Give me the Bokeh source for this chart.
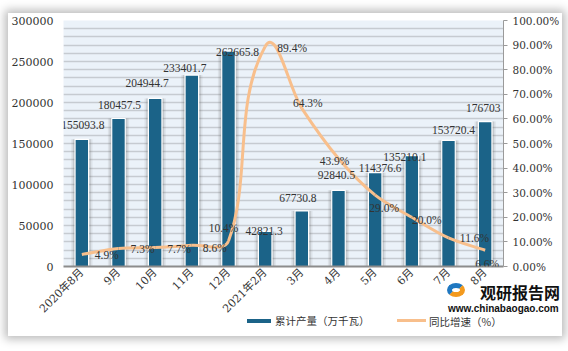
import math
from bokeh.plotting import figure
from bokeh.layouts import column
from bokeh.models import (Range1d, LinearAxis, SingleIntervalTicker, FixedTicker, PrintfTickFormatter,
                          NumeralTickFormatter, ColumnDataSource, LabelSet, Div)
from bokeh.embed import file_html
from bokeh.resources import INLINE

# ---------------- data ----------------
categories = ["2020年8月", "9月", "10月", "11月", "12月", "2021年2月",
              "3月", "4月", "5月", "6月", "7月", "8月"]
output = [155093.8, 180457.5, 204944.7, 233401.7, 262665.8, 42821.3,
          67730.8, 92840.5, 114376.6, 135210.1, 153720.4, 176703]
growth = [4.9, 7.3, 7.7, 8.6, 10.4, 89.4, 64.3, 43.9, 29.0, 20.0, 11.6, 6.6]
series_names = ["累计产量（万千瓦）", "同比增速（%）"]

# ---------------- label placement (style, px) ----------------
bar_lbl_dx = [1, 1, -8, -7, 9, -1, -4, -2, 5, -7, 5, -2]
bar_lbl_dy = [14, 14, 15, 7, -1, 0, 13, 15, 5, -1, 10, 14]
line_lbl_dx = [25, 24, 24, 23, -5, 27, 6, -4, 9, 15, 26, 2]
line_lbl_dy = [-1, 0, -1, -3, 13, -1, 5, -2, -13, -3, 0, -14]

BLUE = "#1b6388"
ORANGE = "#f8bf8c"
SERIF = "DejaVu Serif, Noto Sans CJK SC"

FW, FH = 442, 246   # frame size in px
n = len(categories)
xs = [i + 0.5 for i in range(n)]

p = figure(width=554, height=323, output_backend="svg", toolbar_location=None,
           x_range=Range1d(0, n), y_range=Range1d(0, 300000),
           min_border_left=55, min_border_right=57, min_border_top=7, min_border_bottom=70,
           background_fill_color="#ebf2f9", border_fill_color="white", outline_line_color=None)
p.margin = (13, 6, 0, 8)
p.styles = {"box-shadow": "0 0 9px 3px rgba(0,0,0,0.28)"}
p.extra_y_ranges = {"pct": Range1d(0, 100)}

# grid
p.xgrid.grid_line_color = None
p.ygrid.ticker = SingleIntervalTicker(interval=10000, num_minor_ticks=0)
p.ygrid.grid_line_color = "#c6cbd1"
p.ygrid.grid_line_width = 1.5

# left axis
ya = p.yaxis[0]
ya.ticker = SingleIntervalTicker(interval=50000, num_minor_ticks=0)
ya.formatter = NumeralTickFormatter(format="0")
ya.axis_line_color = None
ya.major_tick_line_color = None
ya.minor_tick_line_color = None
ya.major_tick_out = 0
ya.major_label_text_font = SERIF
ya.major_label_text_font_size = "11px"
ya.major_label_text_color = "#333333"
ya.major_label_standoff = 10

# bottom axis
xa = p.xaxis[0]
xa.ticker = FixedTicker(ticks=xs)
xa.major_label_overrides = {x: c for x, c in zip(xs, categories)}
xa.major_label_orientation = math.pi / 4
xa.axis_line_color = "#8c8c8c"
xa.axis_line_width = 2
xa.major_tick_line_color = None
xa.minor_tick_line_color = None
xa.major_tick_out = 0
xa.major_label_text_font = SERIF
xa.major_label_text_font_size = "11px"
xa.major_label_text_color = "#333333"
xa.major_label_standoff = 4

# right axis
ra = LinearAxis(y_range_name="pct",
                ticker=SingleIntervalTicker(interval=10, num_minor_ticks=0),
                formatter=PrintfTickFormatter(format="%.2f%%"))
ra.axis_line_color = "#9a9a9a"
ra.major_tick_line_color = "#9a9a9a"
ra.major_tick_out = 4
ra.major_tick_in = 0
ra.minor_tick_line_color = None
ra.major_label_text_font = SERIF
ra.major_label_text_font_size = "10.5px"
ra.major_label_text_color = "#333333"
ra.major_label_standoff = 5
p.add_layout(ra, "right")

# bars with soft shadow
src = ColumnDataSource(dict(x=xs, top=output,
                            lbl=[str(v) for v in output],
                            dx=bar_lbl_dx, dy=bar_lbl_dy))
p.vbar(x="x", top="top", width=0.58, bottom=0, source=src, fill_color="#555555", fill_alpha=0.10, line_color=None)
p.vbar(x="x", top="top", width=0.49, bottom=0, source=src, fill_color="#555555", fill_alpha=0.18, line_color=None)
p.vbar(x="x", top="top", width=0.37, bottom=0, source=src, fill_color=BLUE, line_color="white", line_width=1.2)

# smoothed growth line (bezier segments through the data points, computed in px space)
sx = FW / n
sy = FH / 100.0
P = [(x * sx, g * sy) for x, g in zip(xs, growth)]

def unit_tangent(i):
    a = P[i - 1] if i > 0 else P[i]
    b = P[i + 1] if i < n - 1 else P[i]
    dx, dy = b[0] - a[0], b[1] - a[1]
    L = math.hypot(dx, dy) or 1.0
    return dx / L, dy / L

seg = dict(x0=[], y0=[], x1=[], y1=[], cx0=[], cy0=[], cx1=[], cy1=[])
for i in range(n - 1):
    a, b = P[i], P[i + 1]
    d = math.hypot(b[0] - a[0], b[1] - a[1]) / 3.0
    t0, t1 = unit_tangent(i), unit_tangent(i + 1)
    seg["x0"].append(a[0] / sx); seg["y0"].append(a[1] / sy)
    seg["x1"].append(b[0] / sx); seg["y1"].append(b[1] / sy)
    seg["cx0"].append((a[0] + d * t0[0]) / sx); seg["cy0"].append((a[1] + d * t0[1]) / sy)
    seg["cx1"].append((b[0] - d * t1[0]) / sx); seg["cy1"].append((b[1] - d * t1[1]) / sy)
p.bezier(source=ColumnDataSource(seg), x0="x0", y0="y0", x1="x1", y1="y1",
         cx0="cx0", cy0="cy0", cx1="cx1", cy1="cy1",
         line_color=ORANGE, line_width=3, y_range_name="pct")

# data labels
p.add_layout(LabelSet(x="x", y="top", text="lbl", source=src, x_offset="dx", y_offset="dy",
                      text_align="center", text_baseline="middle",
                      text_font=SERIF, text_font_size="11.5px", text_color="#333333"))
lsrc = ColumnDataSource(dict(x=xs, y=growth, lbl=[f"{g:.1f}%" for g in growth],
                             dx=line_lbl_dx, dy=line_lbl_dy))
p.add_layout(LabelSet(x="x", y="y", text="lbl", source=lsrc, x_offset="dx", y_offset="dy",
                      y_range_name="pct", text_align="center", text_baseline="middle",
                      text_font=SERIF, text_font_size="11.5px", text_color="#333333"))

# legend + watermark overlay below the axis labels
CJK = "'Noto Sans CJK SC'"
overlay_html = (
    '<div style="position:relative;width:325px;height:56px;">'
    # legend
    f'<span style="position:absolute;left:7px;top:39px;width:24px;height:4px;background:{BLUE};"></span>'
    f'<span style="position:absolute;left:35px;top:34px;font-family:{CJK};font-size:10.5px;'
    f'line-height:14px;color:#333;white-space:nowrap;">{series_names[0]}</span>'
    f'<span style="position:absolute;left:157px;top:39px;width:29px;height:3px;background:{ORANGE};"></span>'
    f'<span style="position:absolute;left:189px;top:35px;font-family:{CJK};font-size:10.5px;'
    f'line-height:14px;color:#333;white-space:nowrap;">{series_names[1]}</span>'
    # watermark
    '<span style="position:absolute;left:207px;top:3px;width:18px;height:14px;'
    'border:5px solid #1f78c1;border-right-color:#f39a1e;border-bottom-color:#f39a1e;'
    'border-radius:50%;"></span>'
    f'<span style="position:absolute;left:240px;top:2px;font-family:{CJK};'
    'font-weight:bold;font-size:16px;line-height:20px;color:#111;white-space:nowrap;">观研报告网</span>'
    '<span style="position:absolute;left:208px;top:23px;font-family:\'Liberation Sans\';'
    'font-weight:bold;font-size:10px;line-height:12px;color:#111;white-space:nowrap;">'
    'www.chinabaogao.com</span></div>')
overlay = Div(width=325, height=56, margin=(-56, 0, 0, 240),
              styles={"position": "relative", "z-index": "5"}, text=overlay_html)

layout = column(p, overlay)
open("out.html", "w").write(file_html(layout, INLINE))
